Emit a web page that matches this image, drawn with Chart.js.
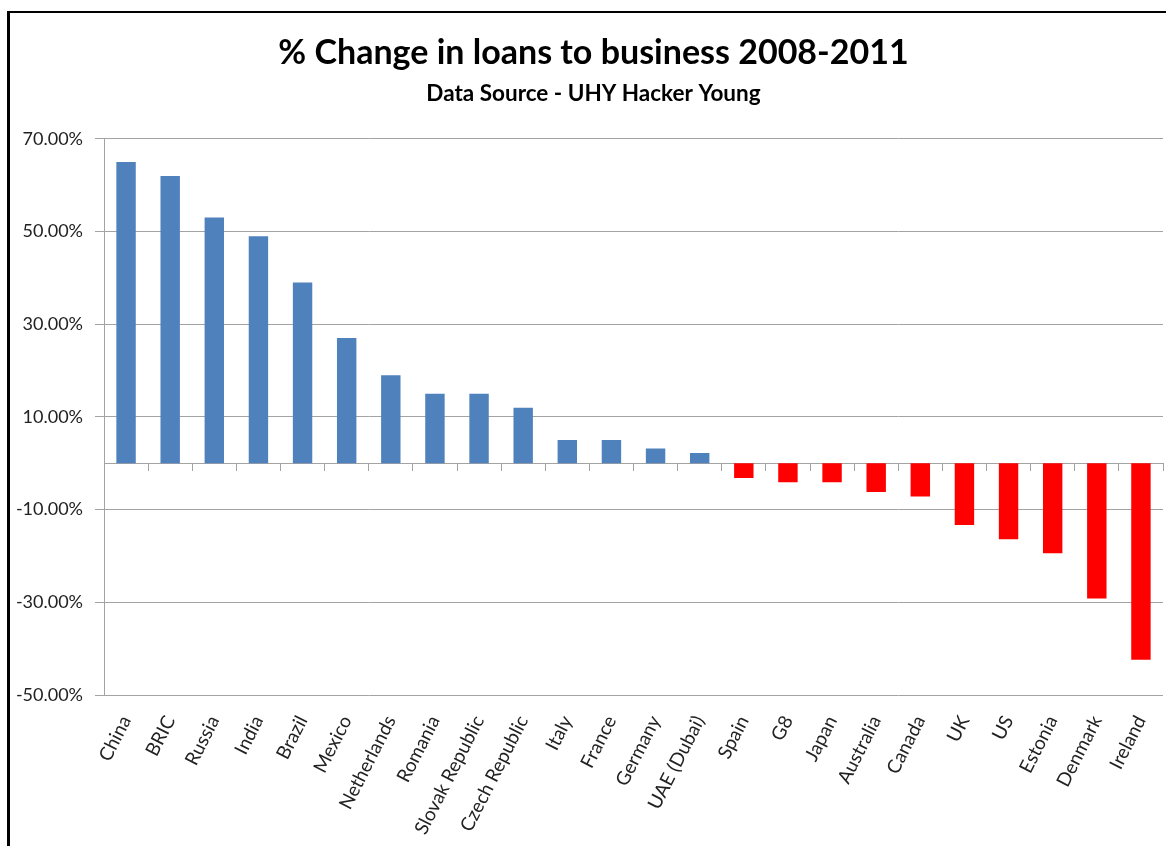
<!DOCTYPE html>
<html>
<head>
<meta charset="utf-8">
<title>% Change in loans to business 2008-2011</title>
<script src="https://cdn.jsdelivr.net/npm/chart.js@4"></script>
<style>
  html, body { margin: 0; padding: 0; background: #fff; }
  #wrap { position: relative; width: 1166px; height: 846px; overflow: hidden; }
  #frame {
    position: absolute; left: 7px; top: 11px; right: -10px; bottom: -10px;
    border-left: 3px solid #000; border-top: 2px solid #000;
    pointer-events: none;
  }
  canvas { position: absolute; left: 0; top: 0; }
</style>
</head>
<body>
<div id="wrap">
  <!-- canvas runs a little past the right edge so the titles sit right of centre -->
  <canvas id="loansChart" width="1190" height="846"></canvas>
  <div id="frame"></div>
</div>
<script>
// countries / groups, sorted by change
const countries = ['China', 'BRIC', 'Russia', 'India', 'Brazil', 'Mexico', 'Netherlands',
  'Romania', 'Slovak Republic', 'Czech Republic', 'Italy', 'France', 'Germany',
  'UAE (Dubai)', 'Spain', 'G8', 'Japan', 'Australia', 'Canada', 'UK', 'US',
  'Estonia', 'Denmark', 'Ireland'];

// % change in lending 2008-2011
const pctChange = [65, 62, 53, 49, 39, 27, 19, 15, 15, 12, 5, 5, 3.2, 2.2,
  -3.2, -4.1, -4.1, -6.2, -7.2, -13.3, -16.4, -19.4, -29.2, -42.4];

const yTicks = [-50, -30, -10, 10, 30, 50, 70];

const UP = '#4F81BD';
const DOWN = '#FF0000';
const GRID = '#a3a3a3';
const FONT = 'Lato, "Open Sans", sans-serif';

new Chart(document.getElementById('loansChart'), {
    type: 'bar',
    data: {
        labels: countries,
        datasets: [{
            data: pctChange,
            backgroundColor: ctx => (ctx.raw < 0 ? DOWN : UP),
            borderWidth: 0,
            categoryPercentage: 1,
            barPercentage: 0.44
        }]
    },
    options: {
        responsive: false,
        animation: false,
        layout: { padding: { left: 0, right: 3, top: 0, bottom: 0 } },
        plugins: {
            legend: { display: false },
            tooltip: { enabled: false },
            title: {
                display: true,
                text: '% Change in loans to business 2008-2011',
                color: '#000',
                font: { family: FONT, size: 34, weight: 'bold', lineHeight: 1.2 },
                padding: { top: 33, bottom: 6 }
            },
            subtitle: {
                display: true,
                text: 'Data Source - UHY Hacker Young',
                color: '#000',
                font: { family: FONT, size: 22.5, weight: 'bold', lineHeight: 1.2 },
                padding: { top: 0, bottom: 32 }
            }
        },
        scales: {
            x: {
                type: 'category',
                position: 'bottom',
                afterFit: axis => { axis.height = 151; },
                grid: { display: false, drawTicks: false },
                border: { display: false },
                ticks: {
                    color: '#222',
                    font: { family: FONT, size: 19 },
                    minRotation: 63,
                    maxRotation: 63,
                    padding: 17,
                    autoSkip: false
                }
            },
            // zero baseline with category tick marks
            x0: {
                type: 'category',
                position: { y: 0 },
                offset: true,
                grid: {
                    offset: true,
                    drawOnChartArea: false,
                    drawTicks: true,
                    tickLength: 7,
                    color: GRID
                },
                border: { display: true, color: GRID, width: 1 },
                ticks: { display: false }
            },
            y: {
                min: -50,
                max: 70,
                afterBuildTicks: axis => {
                    axis.ticks = yTicks.map(v => ({ value: v }));
                },
                afterFit: axis => { axis.width = 104; },
                grid: { color: GRID, lineWidth: 1, drawTicks: true, tickLength: 9 },
                border: { display: true, color: GRID },
                ticks: {
                    color: '#222',
                    font: { family: FONT, size: 18 },
                    padding: 12,
                    callback: v => v.toFixed(2) + '%'
                }
            },
            // empty right-hand spacer, off the visible page
            ySpacer: {
                position: 'right',
                min: -50,
                max: 70,
                afterFit: axis => { axis.width = 24; },
                grid: { display: false },
                border: { display: false },
                ticks: { display: false }
            }
        }
    }
});
</script>
</body>
</html>
